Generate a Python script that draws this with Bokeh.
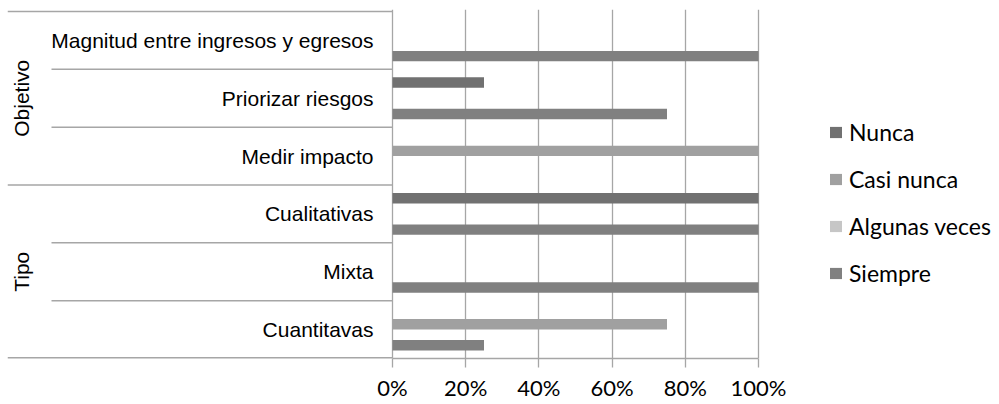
import math
from bokeh.plotting import figure
from bokeh.models import (ColumnDataSource, Range1d, FixedTicker, NumeralTickFormatter,
                          Legend, LegendItem)
from bokeh.embed import file_html
from bokeh.resources import INLINE
from bokeh.core.properties import value

# ---------------- data ----------------
groups = ["Objetivo", "Tipo"]
group_sizes = [3, 3]
categories = ["Magnitud entre ingresos y egresos", "Priorizar riesgos", "Medir impacto",
              "Cualitativas", "Mixta", "Cuantitavas"]
series_names = ["Nunca", "Casi nunca", "Algunas veces", "Siempre"]
nunca = [0, 25, 0, 100, 0, 0]
casi_nunca = [0, 0, 100, 0, 0, 75]
algunas_veces = [0, 0, 0, 0, 0, 0]
siempre = [100, 75, 0, 100, 100, 25]
x_ticks = [0, 20, 40, 60, 80, 100]

# ---------------- style / layout ----------------
colors = ["#717171", "#a0a0a0", "#c6c6c6", "#808080"]
grid_color = "#a6a6a6"
label_font = "Liberation Sans"
num_font = "Lato"
bar_h = 0.181          # bar thickness in category units
plot_px = 366          # width of the value area in px
label_col_px = 385     # width of the label column (left of 0%)
inner_col_px = 341     # length of the inner separators
top_pad = 0.035        # category units
W, H = 999, 404
left_border = 7

n = len(categories)
px = 1.0 / plot_px
x_start = -label_col_px * px
x_end = (W - left_border - label_col_px) * px

p = figure(width=W, height=H,
           x_range=Range1d(x_start, x_end), y_range=Range1d(n, -top_pad),
           output_backend="svg", toolbar_location=None,
           min_border_left=left_border, min_border_right=0, min_border_top=9,
           min_border_bottom=46)
p.outline_line_color = None
p.background_fill_color = "white"
p.border_fill_color = "white"

# bars
all_series = [nunca, casi_nunca, algunas_veces, siempre]
renderers = []
k = len(all_series)
for s_idx, (name, vals, col) in enumerate(zip(series_names, all_series, colors)):
    ys = [i + 0.5 + (s_idx - (k - 1) / 2) * bar_h for i in range(n)]
    src = ColumnDataSource(dict(y=ys, right=[v / 100 for v in vals]))
    r = p.hbar(y="y", left=0, right="right", height=bar_h, source=src,
               fill_color=col, line_color=None)
    renderers.append((name, r))

# x axis
p.xaxis.ticker = FixedTicker(ticks=[t / 100 for t in x_ticks])
p.xaxis.formatter = NumeralTickFormatter(format="0%")
p.xaxis.bounds = (0, 1)
p.xaxis.major_tick_out = 9
p.xaxis.major_tick_in = 0
p.xaxis.minor_tick_out = 0
p.xaxis.minor_tick_in = 0
p.xaxis.axis_line_color = grid_color
p.xaxis.axis_line_width = 1.5
p.xaxis.major_tick_line_color = grid_color
p.xaxis.major_tick_line_width = 1.3
p.xaxis.major_label_text_font = num_font
p.xaxis.major_label_text_font_size = "22px"
p.xaxis.major_label_text_color = "#000000"
p.xaxis.major_label_standoff = 6

p.xgrid.grid_line_color = grid_color
p.xgrid.grid_line_width = 1.3
p.ygrid.visible = False
p.yaxis.visible = False

# separators between categories / groups
bounds = [0]
for g in group_sizes:
    bounds.append(bounds[-1] + g)
inner = [b for b in range(n + 1) if b not in bounds]
sep_x0 = [x_start] * len(bounds) + [-inner_col_px * px] * len(inner)
sep_y = bounds + inner
sep_w = [3.0 if b == n else 1.5 for b in sep_y]
p.segment(x0=sep_x0, y0=sep_y, x1=[0] * len(sep_y), y1=sep_y,
          line_color=grid_color, line_width=sep_w)

# category labels
p.text(x=[0] * n, y=[i + 0.5 for i in range(n)], text=categories, x_offset=-19,
       text_align="right", text_baseline="middle",
       text_font=value(label_font), text_font_size="21px", text_color="#000000")

# group labels
centers = []
start = 0
for g in group_sizes:
    centers.append(start + g / 2)
    start += g
p.text(x=[0] * len(groups), y=centers, text=groups, x_offset=-371,
       angle=math.pi / 2, text_align="center", text_baseline="middle",
       text_font=value(label_font), text_font_size="21px", text_color="#000000")

# legend
legend = Legend(items=[LegendItem(label=nm, renderers=[r]) for nm, r in renderers],
                location=(821, 70), orientation="vertical",
                glyph_width=15, glyph_height=14, label_standoff=6, spacing=17,
                label_height=30, padding=0, margin=0,
                border_line_alpha=0, background_fill_alpha=0,
                label_text_font=num_font, label_text_font_size="23px",
                label_text_color="#000000")
p.add_layout(legend)

open("out.html", "w").write(file_html(p, INLINE))
